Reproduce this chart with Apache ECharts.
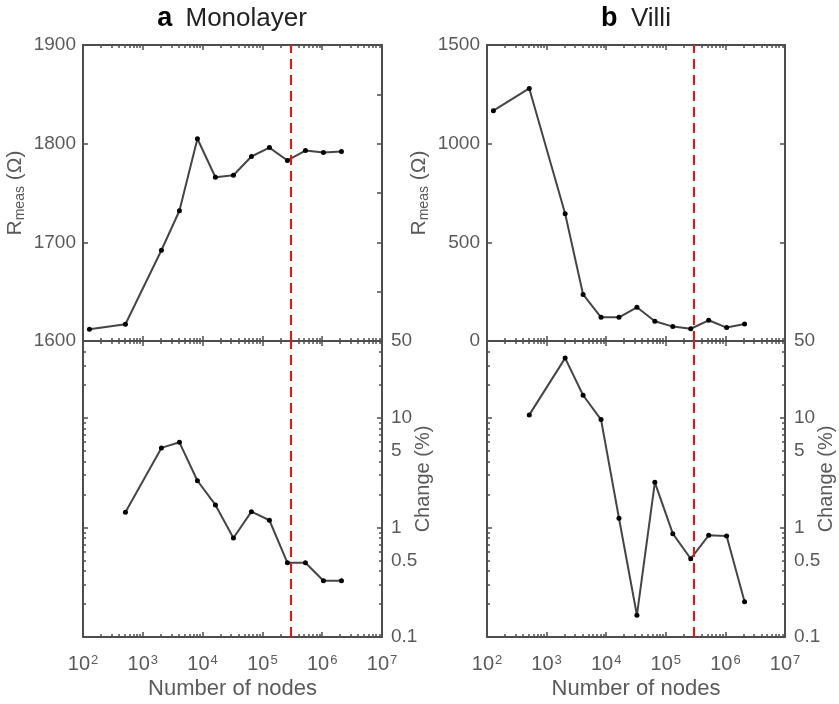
<!DOCTYPE html>
<html>
<head>
<meta charset="utf-8">
<script src="https://cdn.jsdelivr.net/npm/echarts@6/dist/echarts.min.js"></script>
<style>
  html, body { margin: 0; padding: 0; background: #fff; }
  #chart { width: 839px; height: 704px; }
</style>
</head>
<body>
<div id="chart"></div>
<script>
// number of nodes (powers of two)
const nodes = [128, 512, 2048, 4096, 8192, 16384, 32768, 65536, 131072, 262144, 524288, 1048576, 2097152];
// measured resistance (Ohm)
const monoR = [1612, 1617, 1692, 1732, 1805, 1766, 1768, 1787, 1796, 1783, 1793, 1791, 1792];
const villiR = [1167, 1280, 645, 236, 120, 120, 171, 100, 73, 62, 105, 68, 86];
// change relative to the previous mesh (%), from 512 nodes on
const monoChange = [1.37, 5.3, 5.96, 2.66, 1.6, 0.8, 1.39, 1.16, 0.475, 0.475, 0.326, 0.326];
const villiChange = [10.6, 34.9, 16.0, 9.6, 1.21, 0.158, 2.57, 0.875, 0.517, 0.845, 0.834, 0.21];
// chosen mesh size
const cutoff = 3e5;
// ticks
const xDecades = [1e2, 1e3, 1e4, 1e5, 1e6, 1e7];
const changeLabels = [0.1, 0.5, 1, 5, 10, 50];
const changeMajor = [0.1, 1, 10];

const axisColor = '#4d4d4d';
const textColor = '#5a5a5a';
const font = 'Liberation Sans, Arial, Helvetica, sans-serif';

function minorsBetween(lo, hi) {
  const out = [];
  for (let d = lo; d < hi; d *= 10) {
    for (let k = 2; k <= 9; k++) {
      const v = k * d;
      if (v < hi) out.push(+v.toPrecision(3));
    }
  }
  return out;
}
const xMinor = minorsBetween(1e2, 1e7);
const changeMinor = minorsBetween(0.1, 50);

const panels = [
  { left: 83, top: 45, width: 299 },
  { left: 487, top: 45, width: 298 },
  { left: 83, top: 341, width: 299 },
  { left: 487, top: 341, width: 298 }
];

const grid = panels.map(p => ({
  left: p.left, top: p.top, width: p.width, height: 296,
  containLabel: false, outerBoundsMode: 'none'
}));

const line = { show: true, lineStyle: { color: axisColor, width: 2 } };
const noLine = { show: false };

const xAxis = [];
const yAxis = [];
const mainX = [];
const mainY = [];

panels.forEach((p, g) => {
  const bottomRow = g >= 2;
  mainX.push(xAxis.length);
  ['bottom', 'top'].forEach(pos => {
    xAxis.push({
      gridIndex: g, type: 'log', logBase: 10, min: 1e2, max: 1e7, position: pos,
      axisLine: line,
      axisTick: { show: true, inside: true, length: 5, customValues: xDecades,
        lineStyle: { color: axisColor, width: 1.5 } },
      axisLabel: {
        show: bottomRow && pos === 'bottom', customValues: xDecades, margin: 17,
        formatter: v => '{b|10}{s|' + Math.round(Math.log10(v)) + '}',
        rich: {
          b: { fontSize: 20, color: textColor, fontFamily: font },
          s: { fontSize: 13, color: textColor, fontFamily: font, verticalAlign: 'top', padding: [0, 0, 0, 1] }
        }
      },
      splitLine: { show: false },
      name: bottomRow && pos === 'bottom' ? 'Number of nodes' : '',
      nameLocation: 'middle', nameGap: 41, nameMoveOverlap: false,
      nameTextStyle: { fontSize: 22, color: textColor, fontFamily: font }
    });
    xAxis.push({
      gridIndex: g, type: 'log', logBase: 10, min: 1e2, max: 1e7, position: pos,
      axisLine: noLine,
      axisTick: { show: true, inside: true, length: 3, customValues: xMinor,
        lineStyle: { color: axisColor, width: 1.5 } },
      axisLabel: { show: false },
      splitLine: { show: false }
    });
  });

  if (!bottomRow) {
    const isMono = g === 0;
    const ymax = isMono ? 1900 : 1500;
    const ymin = isMono ? 1600 : 0;
    const step = isMono ? 100 : 500;
    mainY.push(yAxis.length);
    yAxis.push({
      gridIndex: g, type: 'value', min: ymin, max: ymax, interval: step, position: 'left',
      axisLine: line,
      axisTick: { show: true, inside: true, length: 5, lineStyle: { color: axisColor, width: 1.5 } },
      axisLabel: { show: true, margin: 7, fontSize: 19, color: textColor, fontFamily: font,
        formatter: v => String(v) },
      splitLine: { show: false },
      name: '{r|R}{s|meas}{r| (Ω)}',
      nameLocation: 'middle', nameRotate: 90, nameGap: 56, nameMoveOverlap: false,
      nameTextStyle: {
        rich: {
          r: { fontSize: 21, color: textColor, fontFamily: font, lineHeight: 24 },
          s: { fontSize: 14, color: textColor, fontFamily: font, verticalAlign: 'bottom', lineHeight: 12 }
        }
      }
    });
    yAxis.push({
      gridIndex: g, type: 'value', min: ymin, max: ymax, interval: isMono ? 50 : 500, position: 'right',
      axisLine: line,
      axisTick: { show: true, inside: true, length: 5, lineStyle: { color: axisColor, width: 1.5 } },
      axisLabel: { show: false },
      splitLine: { show: false }
    });
  } else {
    ['left', 'right'].forEach(pos => {
      const isRight = pos === 'right';
      if (isRight) mainY.push(yAxis.length);
      yAxis.push({
        gridIndex: g, type: 'log', logBase: 10, min: 0.1, max: 50, position: pos,
        axisLine: line,
        axisTick: { show: true, inside: true, length: 5, customValues: changeMajor,
          lineStyle: { color: axisColor, width: 1.5 } },
        axisLabel: { show: isRight, customValues: changeLabels, margin: 9,
          fontSize: 19, color: textColor, fontFamily: font, formatter: v => String(v) },
        splitLine: { show: false },
        name: isRight ? 'Change (%)' : '',
        nameLocation: 'middle', nameRotate: 90, nameGap: 31, nameMoveOverlap: false,
        nameTextStyle: { fontSize: 20, color: textColor, fontFamily: font, padding: [0, 0, 0, 20] }
      });
      yAxis.push({
        gridIndex: g, type: 'log', logBase: 10, min: 0.1, max: 50, position: pos,
        axisLine: noLine,
        axisTick: { show: true, inside: true, length: 3, customValues: changeMinor,
          lineStyle: { color: axisColor, width: 1.5 } },
        axisLabel: { show: false },
        splitLine: { show: false }
      });
    });
  }
});

const cutLine = {
  silent: true, symbol: ['none', 'none'], label: { show: false },
  lineStyle: { color: '#f01010', type: [10, 6], width: 2 },
  data: [{ xAxis: cutoff }]
};

function lineSeries(g, xs, ys) {
  return {
    type: 'line', xAxisIndex: mainX[g], yAxisIndex: mainY[g],
    data: xs.map((x, i) => [x, ys[i]]),
    symbol: 'circle', symbolSize: 5,
    lineStyle: { color: '#454545', width: 2 },
    itemStyle: { color: '#000' },
    markLine: cutLine, animation: false, z: 3
  };
}

const series = [
  lineSeries(0, nodes, monoR),
  lineSeries(1, nodes, villiR),
  lineSeries(2, nodes.slice(1), monoChange),
  lineSeries(3, nodes.slice(1), villiChange)
];

const titleRich = {
  a: { fontSize: 27, fontWeight: 'bold', fill: '#000', fontFamily: font, padding: [0, 10, 0, 0] },
  t: { fontSize: 26, fill: '#222', fontFamily: font }
};

const chart = echarts.init(document.getElementById('chart'), null, { renderer: 'canvas' });
chart.setOption({
  backgroundColor: '#fff',
  animation: false,
  grid: grid,
  xAxis: xAxis,
  yAxis: yAxis,
  series: series,
  graphic: [
    { type: 'text', x: 232, y: 19, style: { text: '{a|a} {t|Monolayer}', rich: titleRich, align: 'center', verticalAlign: 'middle' } },
    { type: 'text', x: 636, y: 19, style: { text: '{a|b} {t|Villi}', rich: titleRich, align: 'center', verticalAlign: 'middle' } }
  ]
});
</script>
</body>
</html>
